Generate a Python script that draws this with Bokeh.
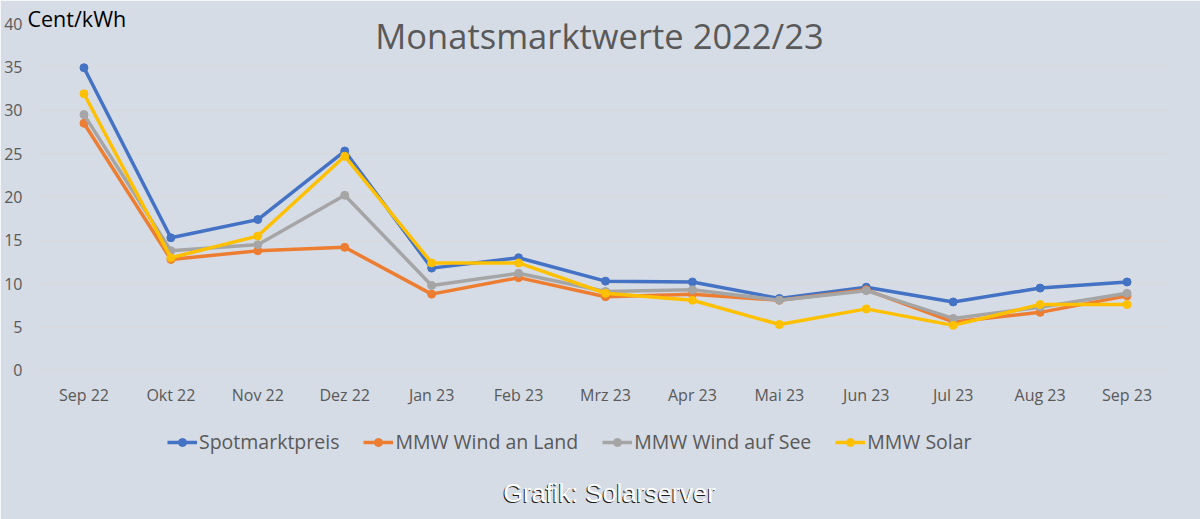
from bokeh.plotting import figure
from bokeh.models import (ColumnDataSource, FixedTicker, Legend, LegendItem, Label)
from bokeh.embed import file_html
from bokeh.resources import INLINE

months = ["Sep 22", "Okt 22", "Nov 22", "Dez 22", "Jan 23", "Feb 23", "Mrz 23",
          "Apr 23", "Mai 23", "Jun 23", "Jul 23", "Aug 23", "Sep 23"]
spot = [34.9, 15.3, 17.4, 25.3, 11.8, 13.0, 10.3, 10.2, 8.3, 9.6, 7.9, 9.5, 10.2]
wind_land = [28.5, 12.8, 13.8, 14.2, 8.8, 10.7, 8.5, 8.8, 8.1, 9.3, 5.6, 6.7, 8.6]
wind_see = [29.5, 13.8, 14.5, 20.2, 9.8, 11.2, 9.1, 9.3, 8.1, 9.2, 6.0, 7.3, 8.9]
solar = [31.9, 13.0, 15.5, 24.7, 12.4, 12.4, 8.9, 8.1, 5.3, 7.1, 5.2, 7.6, 7.6]

series_names = ["Spotmarktpreis", "MMW Wind an Land", "MMW Wind auf See", "MMW Solar"]
series_colors = ["#4472C4", "#ED7D31", "#A5A5A5", "#FFC000"]
y_ticks = [0, 5, 10, 15, 20, 25, 30, 35, 40]

BG = "#D6DCE5"
TXT = "#595959"

# the plot area reaches down to the bottom edge so that the legend and the
# credit line (which sit below the zero line) are drawn inside it
Y_MIN, Y_MAX = -17.18, 40

p = figure(x_range=months, y_range=(Y_MIN, Y_MAX), width=1200, height=519,
           output_backend="svg", toolbar_location=None,
           x_axis_location=None,
           background_fill_color=BG, border_fill_color=BG,
           outline_line_color=BG, outline_line_width=2,
           min_border_left=40, min_border_right=30,
           min_border_top=23, min_border_bottom=0)

# "Cent/kWh" unit label as the (left aligned) plot title
p.title.text = "Cent/kWh"
p.title.align = "left"
p.title.offset = -13
p.title.standoff = -18
p.title.text_font = "Open Sans"
p.title.text_font_size = "21.5px"
p.title.text_font_style = "normal"
p.title.text_color = "#000000"

src = ColumnDataSource(dict(m=months, s0=spot, s1=wind_land, s2=wind_see, s3=solar))
items = []
for i, (name, col) in enumerate(zip(series_names, series_colors)):
    lr = p.line("m", f"s{i}", source=src, line_color=col, line_width=3.5)
    sr = p.scatter("m", f"s{i}", source=src, size=8, fill_color=col, line_color=col)
    items.append(LegendItem(label=name, renderers=[lr, sr]))

# category labels under the zero line
p.text(x="m", y=0, text="m", source=src, y_offset=25, text_align="center",
       text_baseline="middle", text_font_size="16px", text_color=TXT,
       text_font={"value": "Open Sans"})

# grid / y axis
p.xgrid.grid_line_color = None
p.ygrid.ticker = FixedTicker(ticks=y_ticks)
p.ygrid.grid_line_color = "#D9D9D9"
p.ygrid.grid_line_width = 1

ax = p.yaxis[0]
ax.ticker = FixedTicker(ticks=y_ticks)
ax.axis_line_color = None
ax.major_tick_line_color = None
ax.minor_tick_line_color = None
ax.major_tick_out = 0
ax.major_tick_in = 0
ax.major_label_text_font = "Open Sans"
ax.major_label_text_font_size = "16px"
ax.major_label_text_color = TXT
ax.major_label_standoff = 18

legend = Legend(items=items, orientation="horizontal", location=(127, 64),
                background_fill_alpha=0, border_line_color=None,
                label_text_font="Open Sans", label_text_font_size="19.5px",
                label_text_color=TXT, glyph_width=30, glyph_height=20,
                label_height=20, label_standoff=2, spacing=24, padding=0, margin=0)
p.add_layout(legend)

# chart title inside the plot area
p.add_layout(Label(x=559, y=484, x_units="screen", y_units="screen",
                   text="Monatsmarktwerte 2022/23", text_align="center",
                   text_baseline="middle", text_font="Open Sans",
                   text_font_size="34.5px", text_color=TXT))
# credit line: dark shadow + white text
p.add_layout(Label(x=568, y=26, x_units="screen", y_units="screen",
                   text="Grafik: Solarserver", text_align="center",
                   text_baseline="middle", text_font="Liberation Sans",
                   text_font_size="25.5px", text_color="#1A1A1A"))
p.add_layout(Label(x=569, y=27, x_units="screen", y_units="screen",
                   text="Grafik: Solarserver", text_align="center",
                   text_baseline="middle", text_font="Liberation Sans",
                   text_font_size="25.5px", text_color="#FFFFFF"))

open("out.html", "w").write(file_html(p, INLINE))
